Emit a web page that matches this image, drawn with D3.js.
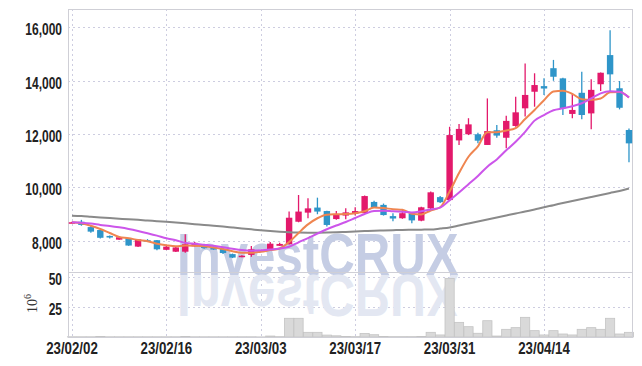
<!DOCTYPE html>
<html><head><meta charset="utf-8">
<script src="https://cdn.jsdelivr.net/npm/d3@7"></script>
<style>
html,body{margin:0;padding:0;background:#fff;}
svg{display:block;}
.tick-label{font-family:"Liberation Sans",Arial,sans-serif;font-weight:bold;font-size:16px;fill:#222;}
</style></head>
<body><svg id="chart" width="642" height="366"></svg>
<script>
const dates = ["23/02/02","23/02/03","23/02/06","23/02/07","23/02/08","23/02/09","23/02/10","23/02/13","23/02/14","23/02/15",
"23/02/16","23/02/17","23/02/20","23/02/21","23/02/22","23/02/23","23/02/24","23/02/27","23/02/28","23/03/02",
"23/03/03","23/03/06","23/03/07","23/03/08","23/03/09","23/03/10","23/03/13","23/03/14","23/03/15","23/03/16",
"23/03/17","23/03/20","23/03/21","23/03/22","23/03/23","23/03/24","23/03/27","23/03/28","23/03/29","23/03/30",
"23/03/31","23/04/03","23/04/04","23/04/05","23/04/06","23/04/07","23/04/10","23/04/11","23/04/12","23/04/13",
"23/04/14","23/04/17","23/04/18","23/04/19","23/04/20","23/04/21","23/04/24","23/04/25","23/04/26","23/04/27"];
const open  = [8680,8720,8520,8410,8190,8050,8100,7790,8030,8030,7670,7600,7600,7800,7840,7770,7700,7510,7400,7480,
7650,7700,7820,7880,8720,9060,9250,9120,8820,8950,9020,9040,9460,9350,8930,8850,9020,8760,9220,9640,
9530,11760,11990,11990,11590,12140,11860,12300,12960,13580,13790,14460,14080,12750,13540,12770,13860,14950,13710,12150];
const high  = [8720,8790,8560,8420,8210,8190,8120,8070,8070,8040,7840,7780,8250,7960,7880,7800,7780,7530,7470,7810,
7660,7960,7930,9100,9720,9600,9620,9130,9120,9220,9260,9700,9500,9400,9040,9160,9050,9280,9850,9680,
12270,12370,12590,12050,13330,12340,12680,13390,14640,14270,14080,14770,14100,13500,14330,14050,14300,15880,13980,12210];
const low   = [8670,8570,8310,8090,8090,8050,7820,7780,7970,7650,7660,7590,7560,7790,7710,7670,7510,7360,7390,7410,
7640,7690,7810,7870,8700,8850,9000,8540,8790,8810,8950,9030,9250,8950,8740,8830,8660,8740,9200,9420,
9490,11590,11960,11650,11590,11860,11470,12270,12650,13020,13460,13990,12710,12590,12550,12180,13610,13580,12920,10940];
const close = [8700,8600,8350,8120,8130,8140,7830,8060,7980,7690,7790,7760,7880,7930,7730,7680,7550,7380,7450,7690,
7650,7900,7890,8870,9100,9220,9100,8600,9010,9070,9120,9680,9270,8970,8840,9040,8770,9260,9820,9450,
11960,12190,12360,11750,12110,11940,12490,12810,13460,13830,13700,14140,12960,12900,12710,13650,14290,14230,12980,11650];
const volume = [0.2,0.2,0.2,0.5,0.2,0.2,0.2,0.2,0.2,0.2,0.2,0.2,0.5,0.2,0.2,0.2,0.2,0.2,0.2,0.2,
0.1,0.8,0.3,15.6,15.6,3.9,3.9,1.6,1.0,0.5,0.3,3.0,1.9,0.4,0.3,0.3,0.3,0.4,3.9,1.7,
48.9,12.2,8.6,3.1,13.6,0.8,6.4,7.8,16.4,5.3,1.7,5.3,2.5,1.7,6.4,7.8,6.4,15.6,2.5,3.9];
const ma5 = [8700,8660,8570,8450,8300,8150,8105,8035,7990,7900,7840,7800,7830,7820,7800,7760,7700,7620,7560,7560,
7600,7660,7720,7960,8300,8620,8850,8980,9000,9010,9040,9110,9250,9230,9190,9170,9020,8990,9140,9260,
9850,10540,11150,11540,12070,12070,12130,12220,12560,12900,13260,13590,13620,13500,13300,13280,13330,13560,13570,13360];
const ma10 = [8700,8680,8650,8600,8560,8510,8450,8375,8290,8200,8100,8030,7930,7900,7860,7820,7770,7710,7660,7640,
7650,7680,7720,7785,7950,8110,8280,8440,8580,8710,8860,9010,9120,9130,9110,9090,9070,9110,9180,9250,
9520,9810,10120,10430,10780,11050,11390,11710,12080,12500,12710,12890,12960,13040,13150,13330,13520,13600,13580,13360];
const maLong = [8946,8930,8905,8880,8860,8835,8810,8790,8765,8740,8715,8690,8660,8630,8600,8570,8540,8505,8470,8435,
8400,8370,8345,8325,8315,8310,8310,8315,8325,8340,8355,8370,8385,8395,8405,8415,8420,8425,8430,8465,
8505,8580,8655,8730,8805,8880,8955,9030,9100,9180,9265,9340,9420,9495,9570,9645,9720,9795,9870,9965];
const priceTicks = [8000,10000,12000,14000,16000];
const volTicks = [25,50];
const dateTickIdx = [0,10,20,30,40,50];
const watermark = "InvestCRUX";

const svg = d3.select("#chart");
const L = 68, R = 632, T = 9, MB = 272, VB = 337;
const x = d3.scaleLinear().domain([-0.42, 59.32]).range([L, R]);
const y = d3.scaleLinear().domain([6841, 16673]).range([MB, T]);
const yv = d3.scaleLinear().domain([0, 54.2]).range([VB, MB]);
const idx = d3.range(dates.length);
const RED = "#e3196b", BLUE = "#2e95c9";
const fmt = d3.format(",");

// gridlines
const grid = svg.append("g").attr("stroke", "#cdcde0").attr("stroke-width", 1).attr("stroke-dasharray", "2,3");
priceTicks.forEach(v => grid.append("line").attr("x1", L).attr("x2", R).attr("y1", Math.round(y(v))+0.5).attr("y2", Math.round(y(v))+0.5));
volTicks.forEach(v => grid.append("line").attr("x1", L).attr("x2", R).attr("y1", Math.round(yv(v))+0.5).attr("y2", Math.round(yv(v))+0.5));
dateTickIdx.forEach(i => grid.append("line").attr("x1", Math.round(x(i))+0.5).attr("x2", Math.round(x(i))+0.5).attr("y1", T).attr("y2", VB));

// watermark and its mirrored reflection (reflection reuses the same text node)
const defs = svg.append("defs");
defs.append("text").attr("id", "wm")
  .style("font-family", '"Liberation Sans",Arial,sans-serif')
  .style("font-weight", "bold").style("font-size", "60px").text(watermark);
svg.append("use").attr("href", "#wm").attr("fill", "#c5cde4")
  .attr("transform", "translate(177,275) scale(0.82,1)");
svg.append("use").attr("href", "#wm").attr("fill", "#e3e7f2")
  .attr("transform", "translate(177,275) scale(0.82,-1)");

// volume bars
svg.append("g").selectAll("rect").data(idx).join("rect")
  .attr("x", i => x(i) - 4.6).attr("width", 9.2)
  .attr("y", i => yv(volume[i])).attr("height", i => VB - yv(volume[i]))
  .attr("fill", "#d9d9d9").attr("stroke", "#c4c4c4").attr("stroke-width", 0.8);

// frame
const frame = svg.append("g").attr("stroke", "#cfcfd6").attr("stroke-width", 1).attr("fill", "none");
frame.append("rect").attr("x", L+0.5).attr("y", T+0.5).attr("width", R-L).attr("height", VB-T);
frame.append("line").attr("x1", L).attr("x2", R).attr("y1", MB+0.5).attr("y2", MB+0.5);

// candles
const cg = svg.append("g");
cg.selectAll("line").data(idx).join("line")
  .attr("x1", i => x(i)).attr("x2", i => x(i))
  .attr("y1", i => y(high[i])).attr("y2", i => y(low[i]))
  .attr("stroke", i => close[i] >= open[i] ? RED : BLUE).attr("stroke-width", 1.3);
cg.selectAll("rect").data(idx).join("rect")
  .attr("x", i => x(i) - 3.2).attr("width", 6.4)
  .attr("y", i => y(Math.max(open[i], close[i])))
  .attr("height", i => Math.max(1.5, Math.abs(y(open[i]) - y(close[i]))))
  .attr("fill", i => close[i] >= open[i] ? RED : BLUE);

// moving averages
const line = arr => d3.line().x(i => x(i)).y(i => y(arr[i])).curve(d3.curveMonotoneX)(idx);
svg.append("path").attr("d", line(maLong)).attr("fill", "none").attr("stroke", "#8a8a8a").attr("stroke-width", 2);
svg.append("path").attr("d", line(ma5)).attr("fill", "none").attr("stroke", "#ef8550").attr("stroke-width", 2);
svg.append("path").attr("d", line(ma10)).attr("fill", "none").attr("stroke", "#cc55ea").attr("stroke-width", 2);

// axes labels (condensed via horizontal scale)
const lab = svg.append("g");
const addLabel = (tx, ty, anchor, sx, s) => lab.append("text").attr("class", "tick-label")
  .attr("transform", `translate(${tx},${ty}) scale(${sx},1)`).attr("text-anchor", anchor).text(s);
priceTicks.forEach(v => addLabel(62, y(v) + 8, "end", 0.75, fmt(v)));
volTicks.forEach(v => addLabel(62, yv(v) + 7.5, "end", 0.75, String(v)));
dateTickIdx.forEach(i => addLabel(x(i), 354, "middle", 0.83, dates[i]));

// unit label
const unit = svg.append("text").attr("transform", "translate(37,313) rotate(-90)")
  .style("font-family", '"Liberation Serif","DejaVu Serif",serif').style("font-size", "14px").attr("fill", "#333");
unit.append("tspan").text("10");
unit.append("tspan").attr("dy", -6).style("font-size", "10px").text("6");
</script></body></html>
